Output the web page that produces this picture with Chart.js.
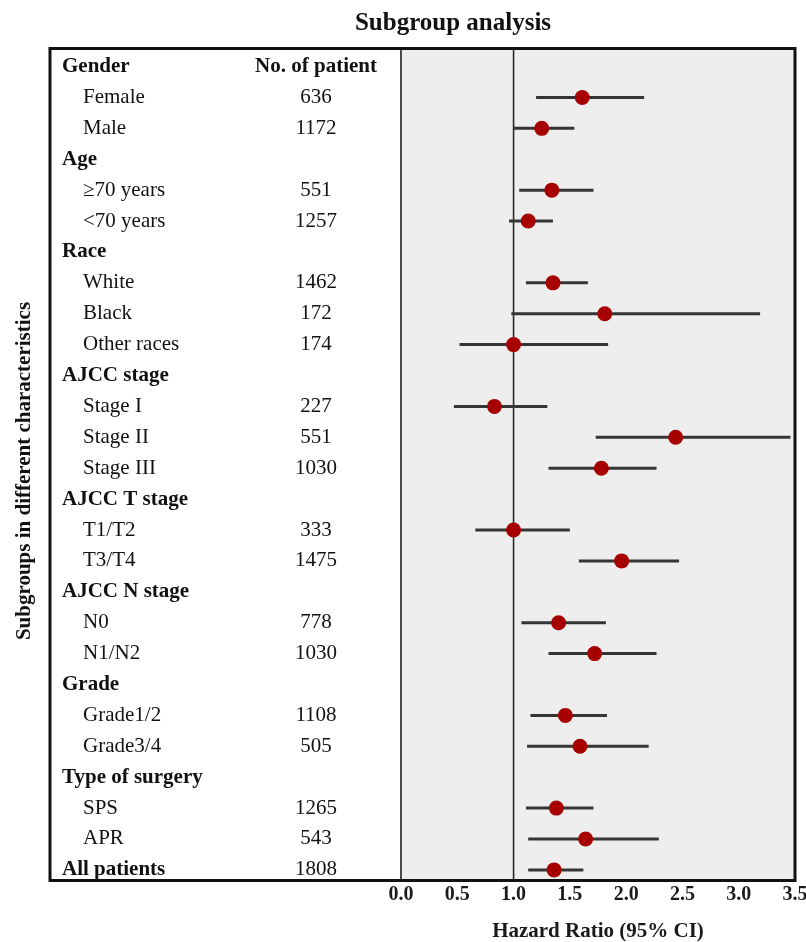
<!DOCTYPE html>
<html>
<head>
<meta charset="utf-8">
<script src="https://cdn.jsdelivr.net/npm/chart.js@4/dist/chart.umd.min.js"></script>
<style>
html,body{margin:0;padding:0;background:#fff;}
#wrap{width:806px;height:942px;position:relative;}
</style>
</head>
<body>
<div id="wrap"><canvas id="c" width="806" height="942"></canvas></div>
<script>
// ---- data ----
const chartTitle = 'Subgroup analysis';
const yTitle = 'Subgroups in different characteristics';
const xTitle = 'Hazard Ratio (95% CI)';
const countHeader = 'No. of patient';
const rowLabels = ['Gender','Female','Male','Age','≥70 years','<70 years','Race','White','Black','Other races',
  'AJCC stage','Stage I','Stage II','Stage III','AJCC T stage','T1/T2','T3/T4','AJCC N stage','N0','N1/N2',
  'Grade','Grade1/2','Grade3/4','Type of surgery','SPS','APR','All patients'];
const rowIsHeader = [true,false,false,true,false,false,true,false,false,false,
  true,false,false,false,true,false,false,true,false,false,
  true,false,false,true,false,false,true];
const patients = [null,636,1172,null,551,1257,null,1462,172,174,
  null,227,551,1030,null,333,1475,null,778,1030,
  null,1108,505,null,1265,543,1808];
const hazardRatio = [null,1.61,1.25,null,1.34,1.13,null,1.35,1.81,1.00,
  null,0.83,2.44,1.78,null,1.00,1.96,null,1.40,1.72,
  null,1.46,1.59,null,1.38,1.64,1.36];
const ciLower = [null,1.20,1.00,null,1.05,0.96,null,1.11,0.98,0.52,
  null,0.47,1.73,1.31,null,0.66,1.58,null,1.07,1.31,
  null,1.15,1.12,null,1.11,1.13,1.13];
const ciUpper = [null,2.16,1.54,null,1.71,1.35,null,1.66,3.19,1.84,
  null,1.30,3.46,2.27,null,1.50,2.47,null,1.82,2.27,
  null,1.83,2.20,null,1.71,2.29,1.62];
const xTicks = [0,0.5,1.0,1.5,2.0,2.5,3.0,3.5];
const refValue = 1;

// ---- chart ----
const FONT = "'Liberation Serif','Times New Roman',serif";
const yMin = -0.6, yMax = 26.36;

const pointData = [];
const ciSets = [];
rowLabels.forEach((lab, i) => {
  if (hazardRatio[i] == null) return;
  pointData.push({x: hazardRatio[i], y: i});
  ciSets.push({
    type: 'scatter', showLine: true, order: 1,
    data: [{x: ciLower[i], y: i}, {x: ciUpper[i], y: i}],
    borderColor: '#353535', borderWidth: 3, pointRadius: 0, borderCapStyle: 'butt'
  });
});

const datasets = [
  {type: 'scatter', order: 0, data: pointData, pointRadius: 7.5, pointHoverRadius: 7.5,
   backgroundColor: '#a60000', borderColor: '#a60000', borderWidth: 0},
  ...ciSets,
  {type: 'scatter', showLine: true, order: 2, data: [{x: refValue, y: yMin}, {x: refValue, y: yMax}],
   borderColor: '#2a2a2a', borderWidth: 1.6, pointRadius: 0}
];

const deco = {
  id: 'deco',
  beforeDraw(chart) {
    const {ctx, chartArea: a} = chart;
    ctx.save();
    ctx.fillStyle = '#ffffff';
    ctx.fillRect(0, 0, chart.width, chart.height);
    ctx.fillStyle = '#eeeeee';
    ctx.fillRect(a.left, a.top, a.right - a.left, a.bottom - a.top);
    ctx.restore();
  },
  afterDraw(chart) {
    const {ctx, chartArea: a} = chart;
    const ys = chart.scales.y;
    ctx.save();
    // table text
    ctx.fillStyle = '#111';
    ctx.textBaseline = 'middle';
    rowLabels.forEach((lab, i) => {
      const y = ys.getPixelForValue(i);
      ctx.textAlign = 'left';
      if (rowIsHeader[i]) {
        ctx.font = 'bold 21px ' + FONT;
        ctx.fillText(lab, 62, y);
      } else {
        ctx.font = '21px ' + FONT;
        ctx.fillText(lab, 83, y);
      }
      ctx.textAlign = 'center';
      if (i === 0) {
        ctx.font = 'bold 21px ' + FONT;
        ctx.fillText(countHeader, 316, y);
      } else if (patients[i] != null) {
        ctx.font = '21px ' + FONT;
        ctx.fillText(String(patients[i]), 316, y);
      }
    });
    // separator between table and plot
    ctx.strokeStyle = '#222';
    ctx.lineWidth = 1.6;
    ctx.beginPath();
    ctx.moveTo(a.left, a.top);
    ctx.lineTo(a.left, a.bottom);
    ctx.stroke();
    // outer border
    ctx.strokeStyle = '#111';
    ctx.lineWidth = 3;
    ctx.strokeRect(50, 48.5, 745, 832);
    // main title
    ctx.font = 'bold 25px ' + FONT;
    ctx.textAlign = 'center';
    ctx.textBaseline = 'alphabetic';
    ctx.fillStyle = '#111';
    ctx.fillText(chartTitle, 453, 30);
    // y title
    ctx.translate(30, 471);
    ctx.rotate(-Math.PI / 2);
    ctx.font = 'bold 21px ' + FONT;
    ctx.fillText(yTitle, 0, 0);
    ctx.restore();
  }
};

new Chart(document.getElementById('c'), {
  type: 'scatter',
  data: {datasets},
  options: {
    responsive: false,
    animation: false,
    layout: {padding: {left: 401, right: 11, top: 48, bottom: 0}},
    plugins: {legend: {display: false}, tooltip: {enabled: false}, title: {display: false}},
    scales: {
      x: {
        type: 'linear', position: 'bottom', min: 0, max: 3.5,
        grid: {display: false, drawTicks: false},
        border: {display: false},
        afterBuildTicks(s) { s.ticks = xTicks.map(v => ({value: v})); },
        ticks: {
          padding: 2, autoSkip: false, maxRotation: 0, color: '#1a1a1a',
          font: {family: FONT, size: 20, weight: 'bold'},
          callback: v => Number(v).toFixed(1)
        },
        title: {
          display: true, text: xTitle, color: '#1a1a1a',
          font: {family: FONT, size: 21, weight: 'bold', lineHeight: 1},
          padding: {top: 0, bottom: 0}
        },
        afterFit(s) { s.height = 61; s.paddingLeft = 0; s.paddingRight = 0; }
      },
      y: {type: 'linear', display: false, reverse: true, min: yMin, max: yMax}
    }
  },
  plugins: [deco]
});
</script>
</body>
</html>
